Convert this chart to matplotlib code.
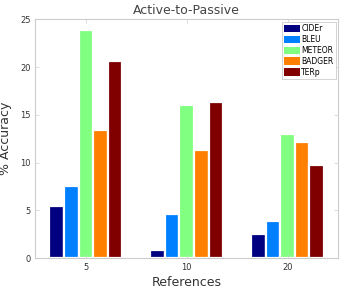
import numpy as np
import matplotlib
matplotlib.use("Agg")
from matplotlib import pyplot as plt

# Data
references = ["5", "10", "20"]
metrics = ["CIDEr", "BLEU", "METEOR", "BADGER", "TERp"]
cider = [5.45, 0.8, 2.5]
bleu = [7.6, 4.65, 3.85]
meteor = [23.9, 16.0, 13.0]
badger = [13.4, 11.3, 12.2]
terp = [20.6, 16.4, 9.7]

colors = ["#000080", "#0080ff", "#80ff80", "#ff8000", "#800000"]

fig = plt.figure(figsize=(3.47, 2.9), dpi=100)
ax = fig.add_axes([0.102, 0.11, 0.872, 0.823])

x = np.arange(len(references))
width = 0.145
series = [cider, bleu, meteor, badger, terp]
for i, (name, vals) in enumerate(zip(metrics, series)):
    ax.bar(x + (i - 2) * width, vals, width, color=colors[i],
           edgecolor="white", linewidth=1.6, label=name)

ax.set_xlim(-0.5, 2.5)
ax.set_ylim(0, 25)
ax.set_xticks(x)
ax.set_xticklabels(references)
ax.set_yticks([0, 5, 10, 15, 20, 25])
ax.tick_params(direction="in", length=3, width=0.5, colors="#cccccc",
               labelcolor="#333333", labelsize=6, top=True, right=True)
for s in ax.spines.values():
    s.set_color("#cccccc")
    s.set_linewidth(0.8)

ax.set_title("Active-to-Passive", fontsize=9, color="#444444", pad=4)
ax.set_ylabel("% Accuracy", fontsize=9, color="#333333", labelpad=6)
ax.set_xlabel("References", fontsize=9, color="#333333", labelpad=3)

leg = ax.legend(loc="upper right", fontsize=5.5, handlelength=2.0,
                handleheight=1.1, handletextpad=0.2, labelspacing=0.25,
                borderpad=0.3, borderaxespad=0.3, fancybox=False,
                framealpha=1)
leg.get_frame().set_edgecolor("#cccccc")
leg.get_frame().set_linewidth(0.6)
for h in leg.legend_handles:
    h.set_linewidth(0)

fig.savefig("out.png", dpi=100)
